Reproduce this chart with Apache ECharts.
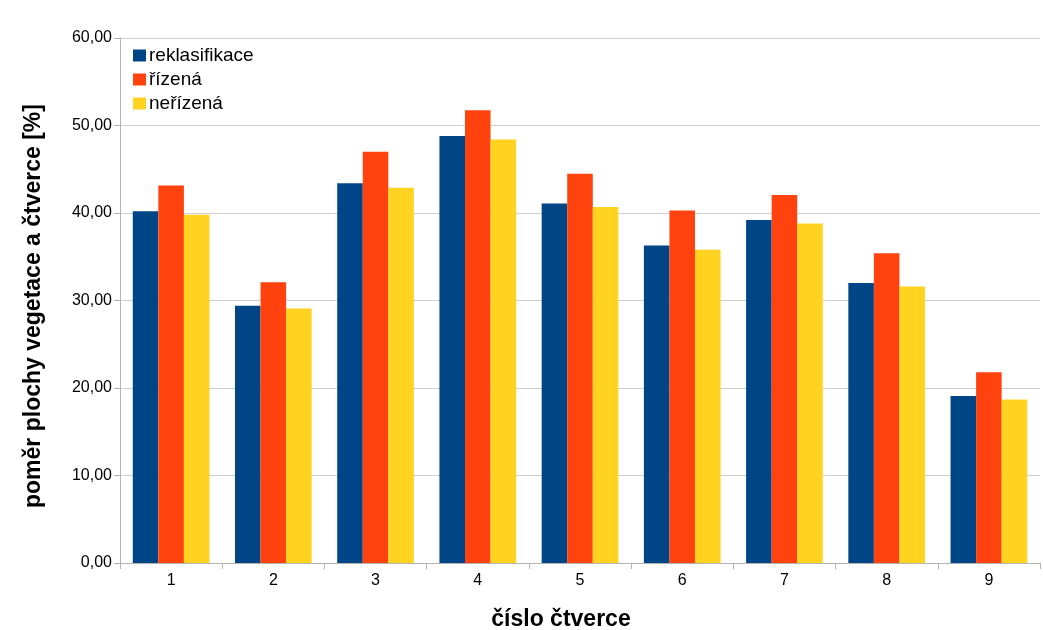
<!DOCTYPE html>
<html>
<head>
<meta charset="utf-8">
<script src="https://cdn.jsdelivr.net/npm/echarts@6/dist/echarts.min.js"></script>
<style>
  html, body { margin: 0; padding: 0; background: #fff; }
  #chart { width: 1043px; height: 630px; }
</style>
</head>
<body>
<div id="chart"></div>
<script>
// Square numbers (categories)
const categories = ['1', '2', '3', '4', '5', '6', '7', '8', '9'];

// Share of vegetation area per square [%]
const reklasifikace = [40.2, 29.4, 43.4, 48.8, 41.1, 36.3, 39.2, 32.0, 19.1];
const rizena        = [43.15, 32.1, 47.0, 51.75, 44.5, 40.3, 42.05, 35.4, 21.8];
const nerizena      = [39.8, 29.1, 42.9, 48.4, 40.7, 35.8, 38.8, 31.6, 18.7];

const seriesNames = ['reklasifikace', 'řízená', 'neřízená'];
const colors = ['#004586', '#ff420e', '#ffd320'];

const chart = echarts.init(document.getElementById('chart'));
const fontFamily = '"Liberation Sans", Arial, sans-serif';

chart.setOption({
  animation: false,
  textStyle: { fontFamily: fontFamily },
  color: colors,
  grid: { left: 120, right: 3, top: 38, bottom: 67, containLabel: false },
  legend: {
    orient: 'vertical',
    left: 128,
    top: 41,
    itemWidth: 13,
    itemHeight: 12,
    itemGap: 5,
    icon: 'rect',
    textStyle: { fontSize: 19, color: '#000', fontFamily: fontFamily, padding: [0, 0, 0, -2] },
    data: seriesNames
  },
  xAxis: {
    type: 'category',
    data: categories,
    axisLine: { show: true, lineStyle: { color: '#b3b3b3', width: 1 } },
    axisTick: { show: true, alignWithLabel: false, length: 6, lineStyle: { color: '#b3b3b3' } },
    axisLabel: { fontSize: 16, color: '#000', margin: 10 },
    splitLine: { show: false }
  },
  yAxis: {
    type: 'value',
    min: 0,
    max: 60,
    interval: 10,
    axisLine: { show: true, lineStyle: { color: '#b3b3b3', width: 1 } },
    axisTick: { show: true, length: 6, lineStyle: { color: '#b3b3b3' } },
    axisLabel: {
      fontSize: 16,
      color: '#000',
      margin: 8,
      formatter: v => v.toFixed(2).replace('.', ',')
    },
    splitLine: { show: true, lineStyle: { color: '#cfcfcf', width: 1 } }
  },
  graphic: [
    {
      type: 'text',
      x: 561,
      y: 620,
      style: {
        text: 'číslo čtverce',
        font: 'bold 23px ' + fontFamily,
        fill: '#000',
        align: 'center',
        verticalAlign: 'middle'
      }
    },
    {
      type: 'text',
      x: 34,
      y: 306,
      rotation: Math.PI / 2,
      style: {
        text: 'poměr plochy vegetace a čtverce [%]',
        font: 'bold 23px ' + fontFamily,
        fill: '#000',
        align: 'center',
        verticalAlign: 'middle'
      }
    }
  ],
  series: [
    { name: seriesNames[0], type: 'bar', data: reklasifikace, barGap: '0%', barCategoryGap: '25%' },
    { name: seriesNames[1], type: 'bar', data: rizena, barGap: '0%', barCategoryGap: '25%' },
    { name: seriesNames[2], type: 'bar', data: nerizena, barGap: '0%', barCategoryGap: '25%' }
  ]
});
</script>
</body>
</html>
